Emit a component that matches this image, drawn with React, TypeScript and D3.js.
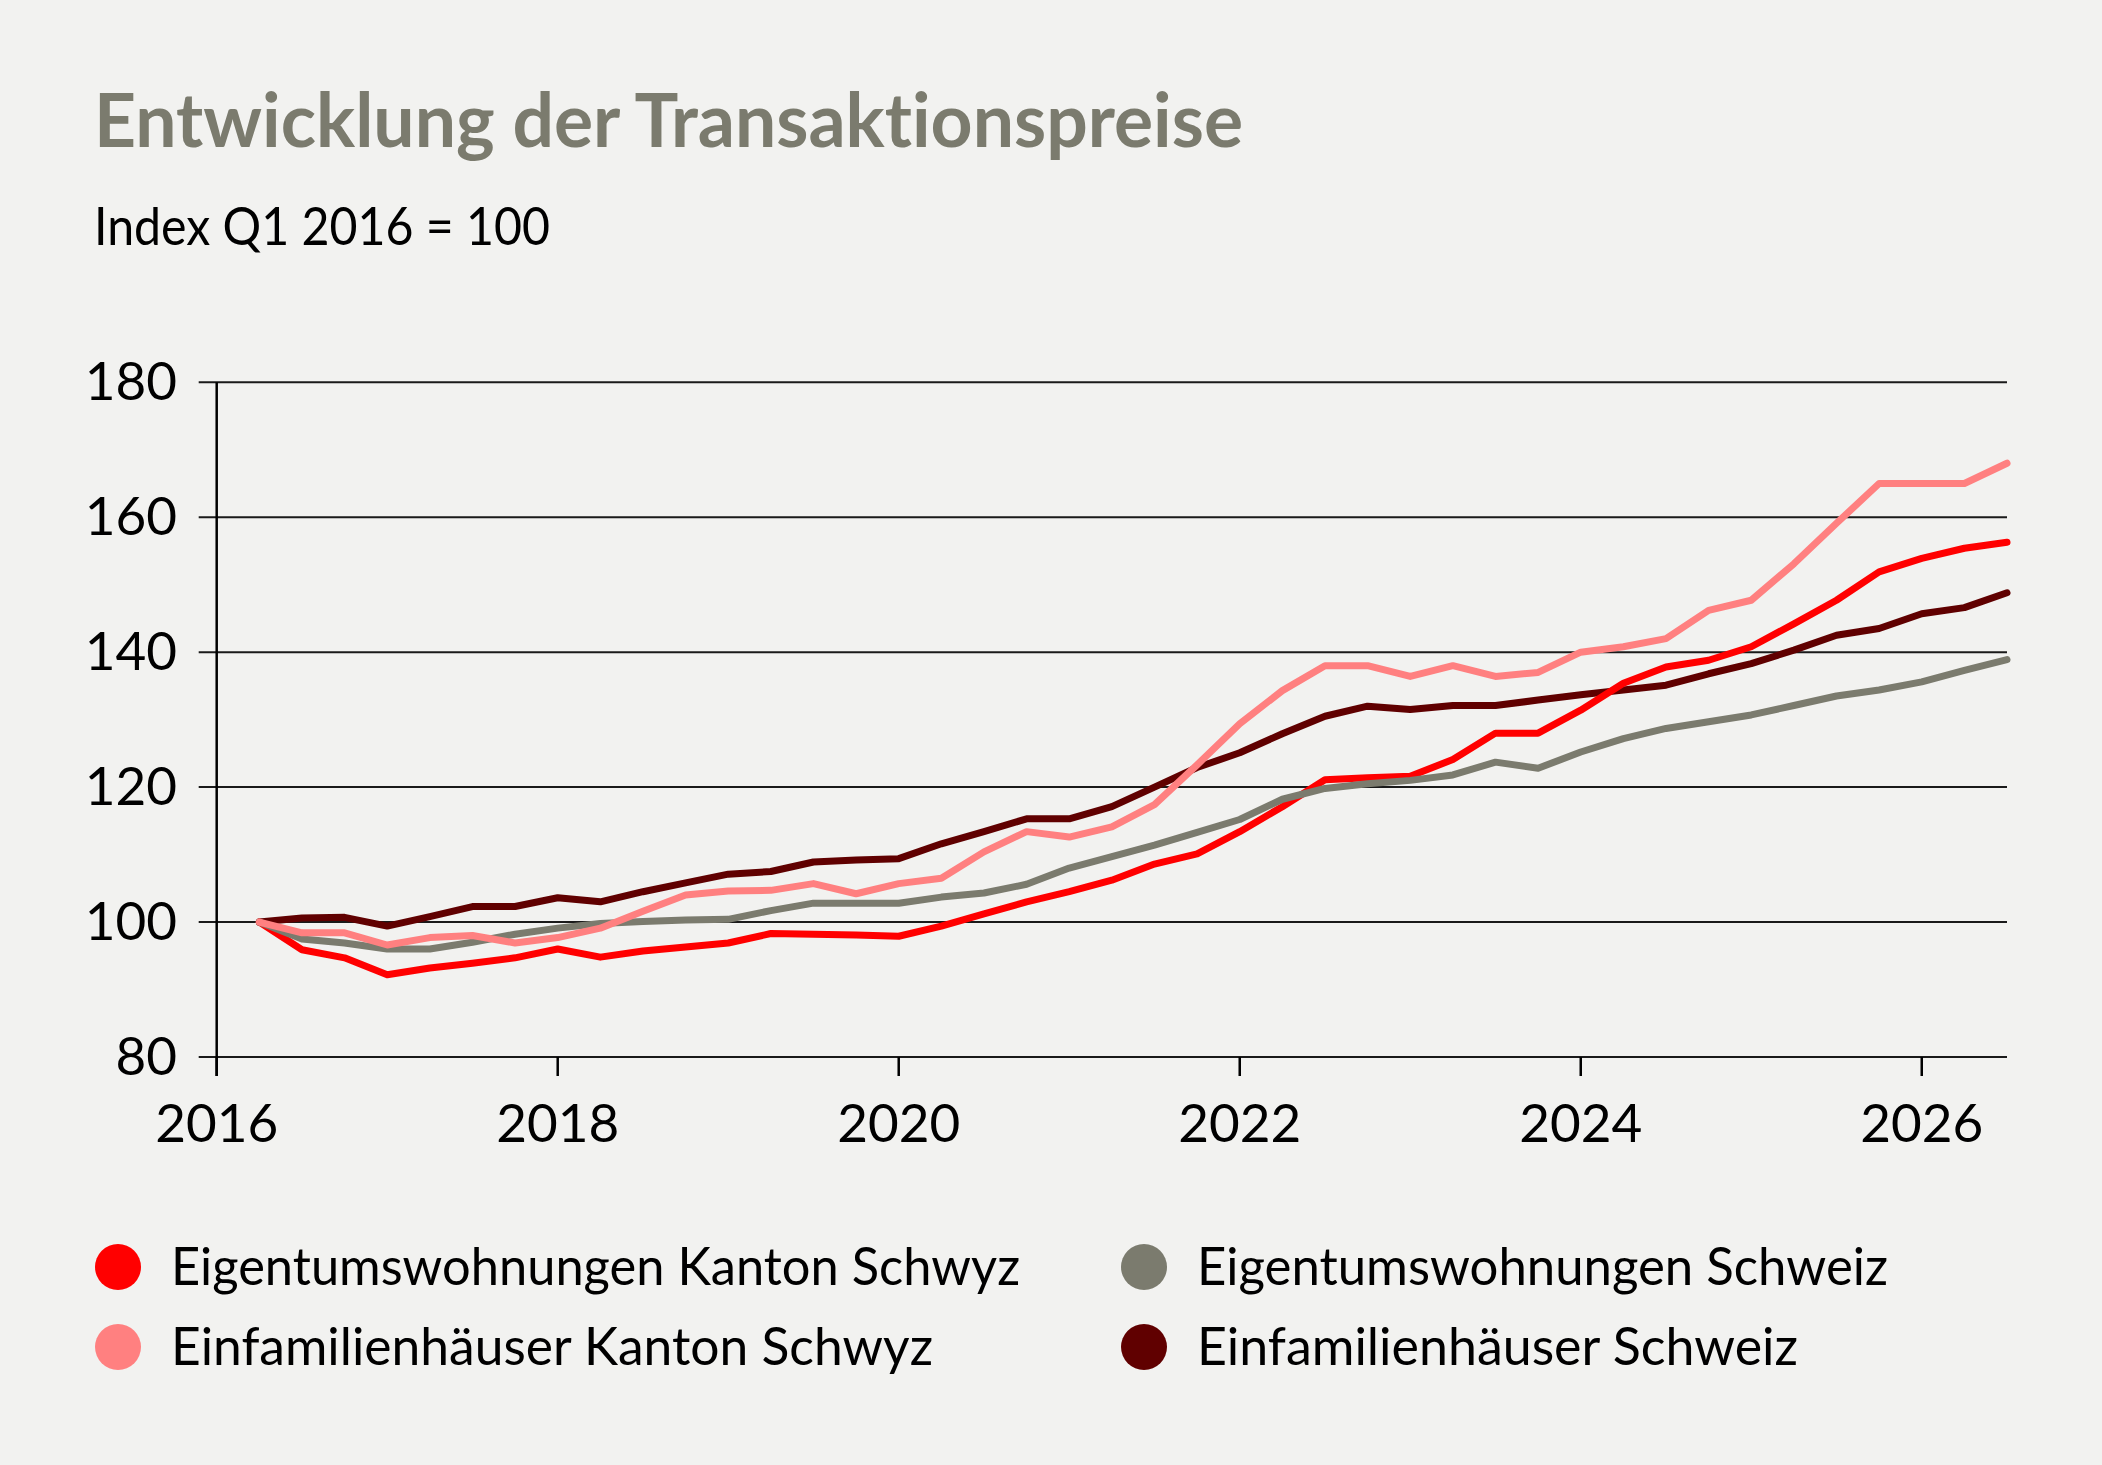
import React, { useEffect, useRef } from 'react';
import * as d3 from 'd3';

// Quarters Q1 2016 .. Q2 2026, plotted at the end of each quarter
const quarters: string[] = d3.range(42).map(i => `Q${(i % 4) + 1} ${2016 + Math.floor(i / 4)}`);

const ewgSchwyz = [
  100, 95.9, 94.7, 92.2, 93.2, 93.9, 94.7, 96.0, 94.8, 95.7,
  96.3, 96.9, 98.3, 98.2, 98.1, 97.9, 99.4, 101.2, 103.0, 104.5,
  106.2, 108.6, 110.1, 113.4, 117.1, 121.1, 121.4, 121.6, 124.1, 128.0,
  128.0, 131.4, 135.4, 137.8, 138.8, 140.8, 144.2, 147.7, 151.9, 153.9,
  155.4, 156.3,
];
const ewgSchweiz = [
  100, 97.5, 96.9, 96.0, 96.0, 97.0, 98.2, 99.1, 99.8, 100.1,
  100.3, 100.4, 101.7, 102.8, 102.8, 102.8, 103.7, 104.3, 105.6, 108.0,
  109.7, 111.4, 113.3, 115.2, 118.2, 119.8, 120.5, 121.0, 121.8, 123.7,
  122.8, 125.2, 127.2, 128.7, 129.7, 130.7, 132.1, 133.5, 134.4, 135.6,
  137.3, 138.9,
];
const efhSchwyz = [
  100, 98.4, 98.4, 96.6, 97.7, 98.0, 96.9, 97.7, 99.1, 101.6,
  104.0, 104.6, 104.7, 105.7, 104.2, 105.7, 106.5, 110.4, 113.4, 112.6,
  114.1, 117.4, 123.3, 129.4, 134.3, 138.0, 138.0, 136.4, 138.0, 136.4,
  137.0, 140.0, 140.8, 142.0, 146.2, 147.7, 153.1, 159.1, 165.0, 165.0,
  165.0, 168.0,
];
const efhSchweiz = [
  100, 100.6, 100.7, 99.4, 100.8, 102.3, 102.3, 103.6, 103.0, 104.5,
  105.8, 107.1, 107.5, 108.9, 109.2, 109.4, 111.6, 113.4, 115.3, 115.3,
  117.1, 120.0, 122.9, 125.1, 127.9, 130.5, 132.0, 131.5, 132.1, 132.1,
  132.9, 133.7, 134.4, 135.1, 136.8, 138.3, 140.3, 142.5, 143.5, 145.7,
  146.6, 148.8,
];

const yTicks = [80, 100, 120, 140, 160, 180];
const xTicks = [2016, 2018, 2020, 2022, 2024, 2026];

const seriesNames = [
  'Eigentumswohnungen Kanton Schwyz',
  'Einfamilienhäuser Kanton Schwyz',
  'Eigentumswohnungen Schweiz',
  'Einfamilienhäuser Schweiz',
];
const seriesValues = [ewgSchwyz, efhSchwyz, ewgSchweiz, efhSchweiz];
const seriesColors = ['#ff0000', '#ff8080', '#7b7b6e', '#600000'];
// drawing order, back to front
const drawOrder = [3, 0, 2, 1];
// measured text widths in the reference (font is narrower than Lato)
const legendWidths = [849, 762, 691, 601];

const W = 2102;
const H = 1465;
const FONT = 'Lato, "Noto Sans", sans-serif';

const quarterPos = (q: string) => {
  const [qq, yy] = q.split(' ');
  return +yy + +qq.slice(1) * 0.25;
};

export default function App() {
  const ref = useRef<SVGSVGElement | null>(null);

  useEffect(() => {
    document.body.style.margin = '0';
    document.body.style.background = '#f2f2f0';
    if (!ref.current) return;
    const svg = d3.select(ref.current);
    svg.selectAll('*').remove();

    const left = 216.7, right = 2007, top = 382.3, bottom = 1057;

    const x = d3.scaleLinear().domain([2016, 2026.5]).range([left, right]);
    const y = d3.scaleLinear().domain([80, 180]).range([bottom, top]);

    svg.append('rect').attr('width', W).attr('height', H).attr('fill', '#f2f2f0');

    // title + subtitle
    svg.append('text')
      .attr('x', 94).attr('y', 147)
      .attr('font-family', FONT).attr('font-weight', 700)
      .attr('font-size', 75).attr('fill', '#7b7b6e')
      .style('font-variant-ligatures', 'none')
      .attr('textLength', 1149).attr('lengthAdjust', 'spacingAndGlyphs')
      .text('Entwicklung der Transaktionspreise');
    svg.append('text')
      .attr('x', 94).attr('y', 245)
      .attr('font-family', FONT).attr('font-size', 53).attr('fill', '#000')
      .attr('textLength', 456).attr('lengthAdjust', 'spacingAndGlyphs')
      .text('Index Q1 2016 = 100');

    // gridlines with left tick stubs
    const grid = svg.append('g');
    grid.selectAll('line')
      .data(yTicks)
      .enter().append('line')
      .attr('x1', left - 18).attr('x2', right)
      .attr('y1', d => y(d)).attr('y2', d => y(d))
      .attr('stroke', '#1a1a1a').attr('stroke-width', 2);

    grid.selectAll('text')
      .data(yTicks)
      .enter().append('text')
      .attr('x', 177).attr('y', d => y(d) + 18)
      .attr('text-anchor', 'end')
      .attr('font-family', FONT).attr('font-size', 53).attr('fill', '#000')
      .text(d => d);

    // y axis line (extends down as 2016 tick)
    svg.append('line')
      .attr('x1', left).attr('x2', left)
      .attr('y1', top).attr('y2', bottom + 19)
      .attr('stroke', '#000').attr('stroke-width', 2.5);

    // x ticks + labels
    const xg = svg.append('g');
    xg.selectAll('line')
      .data(xTicks)
      .enter().append('line')
      .attr('x1', d => x(d)).attr('x2', d => x(d))
      .attr('y1', bottom).attr('y2', bottom + 19)
      .attr('stroke', '#000').attr('stroke-width', 2.5);
    xg.selectAll('text')
      .data(xTicks)
      .enter().append('text')
      .attr('x', d => x(d)).attr('y', 1142)
      .attr('text-anchor', 'middle')
      .attr('font-family', FONT).attr('font-size', 53).attr('fill', '#000')
      .text(d => d);

    // lines
    const line = d3.line<number>()
      .x((_, i) => x(quarterPos(quarters[i])))
      .y(d => y(d));

    drawOrder.forEach(s => {
      svg.append('path')
        .datum(seriesValues[s])
        .attr('d', line)
        .attr('fill', 'none')
        .attr('stroke', seriesColors[s])
        .attr('stroke-width', 7)
        .attr('stroke-linejoin', 'round')
        .attr('stroke-linecap', 'round');
    });

    // legend, two columns
    const legendX = [118, 1144];
    const legendY = [1267, 1347];
    const lg = svg.append('g');
    seriesNames.forEach((name, i) => {
      const cx = legendX[Math.floor(i / 2)];
      const cy = legendY[i % 2];
      lg.append('circle')
        .attr('cx', cx).attr('cy', cy).attr('r', 23)
        .attr('fill', seriesColors[i]);
      lg.append('text')
        .attr('x', cx + 53).attr('y', cy + 18)
        .attr('font-family', FONT).attr('font-size', 52).attr('fill', '#000')
        .attr('textLength', legendWidths[i]).attr('lengthAdjust', 'spacingAndGlyphs')
        .text(name);
    });
  }, []);

  return <svg ref={ref} width={W} height={H} style={{ display: 'block' }} />;
}
